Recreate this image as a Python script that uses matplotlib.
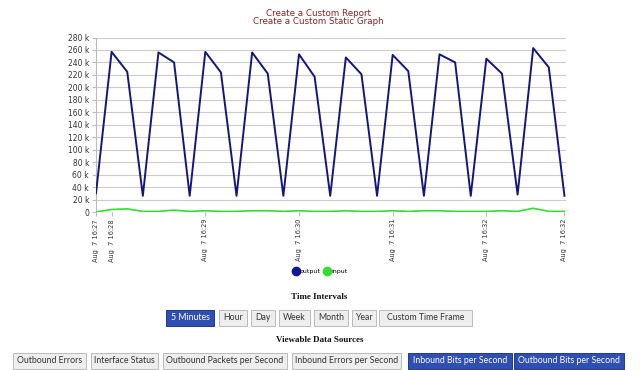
import datetime as dt
import matplotlib
matplotlib.use("Agg")
import matplotlib.pyplot as plt
from matplotlib.lines import Line2D
from matplotlib.patches import FancyBboxPatch

# samples every 10 s, 16:27:50 -> 16:32:50
start = dt.datetime(2012, 8, 7, 16, 27, 50)
times = [start + dt.timedelta(seconds=10 * i) for i in range(31)]
output_k = [30, 257, 225, 26, 256, 240, 26, 257, 224, 26, 256, 222, 26,
            253, 217, 26, 248, 221, 26, 252, 226, 26, 253, 240, 26,
            246, 222, 28, 263, 232, 26]
input_k = [0, 4, 5, 1, 1, 3, 1, 2, 1, 1, 2, 2, 1, 2, 1, 1, 2, 1, 1,
           2, 1, 2, 2, 1, 1, 1, 2, 1, 6, 1, 1]

tick_times = [times[0]] + [dt.datetime(2012, 8, 7, 16, m) for m in range(28, 33)] + [times[-1]]
y_ticks = list(range(0, 281, 20))

interval_buttons = ["5 Minutes", "Hour", "Day", "Week", "Month", "Year", "Custom Time Frame"]
interval_x = [(166, 214), (219, 247), (251, 275), (279, 310), (314, 348), (352, 376), (379, 472)]
source_buttons = ["Outbound Errors", "Interface Status", "Outbound Packets per Second",
                  "Inbound Errors per Second", "Inbound Bits per Second", "Outbound Bits per Second"]
source_x = [(13, 86), (91, 158), (163, 287), (292, 401), (408, 512), (514, 624)]
active = {"5 Minutes", "Inbound Bits per Second", "Outbound Bits per Second"}

W, H = 640, 370
fig = plt.figure(figsize=(6.4, 3.7), dpi=100)
fig.patch.set_facecolor("white")

ax = fig.add_axes([96 / W, 1 - 212 / H, (566 - 96) / W, (212 - 37.5) / H])
ax.plot(times, [v * 1000 for v in output_k], color="#15157f", lw=1.4, zorder=3)
ax.plot(times, [v * 1000 for v in input_k], color="#33dd33", lw=1.2, zorder=3)

ax.set_ylim(0, 280000)
ax.set_yticks([v * 1000 for v in y_ticks])
ax.set_yticklabels(["0" if v == 0 else f"{v} k" for v in y_ticks], fontsize=5.5, color="#333333")
ax.set_xlim(times[0], times[-1] + dt.timedelta(seconds=1))
ax.set_xticks(tick_times)
ax.set_xticklabels([t.strftime("Aug  7 %H:%M") for t in tick_times], rotation=90,
                   fontsize=4.8, color="#333333", va="top", ha="center")
ax.grid(axis="y", color="#cccccc", lw=0.8)
ax.set_axisbelow(True)
for s in ["top", "right", "bottom"]:
    ax.spines[s].set_visible(False)
ax.spines["left"].set_color("#bbbbbb")
ax.tick_params(axis="y", length=3, color="#bbbbbb", pad=2)
ax.tick_params(axis="x", length=3, color="#bbbbbb", pad=2)

# titles
fig.text(318 / W, 1 - 13 / H, "Create a Custom Report", ha="center", va="center",
         fontsize=6.3, color="#8b2222")
fig.text(318 / W, 1 - 22 / H, "Create a Custom Static Graph", ha="center", va="center",
         fontsize=6.3, color="#8b2222")

# legend
handles = [Line2D([], [], marker="o", ls="", color="#15159a", markersize=6),
           Line2D([], [], marker="o", ls="", color="#33dd33", markersize=6)]
fig.legend(handles, ["output", "input"], loc="center", bbox_to_anchor=(320 / W, 1 - 271.5 / H),
           ncol=2, frameon=False, fontsize=4.5, handletextpad=0.1, columnspacing=0.6,
           handlelength=1.0)

fig.text(319 / W, 1 - 297 / H, "Time Intervals", ha="center", va="center",
         fontsize=6.5, fontweight="bold", family="Liberation Serif", color="#111111")
fig.text(320 / W, 1 - 340 / H, "Viewable Data Sources", ha="center", va="center",
         fontsize=6.5, fontweight="bold", family="Liberation Serif", color="#111111")


def button(label, x0, x1, y0, y1):
    on = label in active
    face = "#2f4fb3" if on else "#eeeeee"
    edge = "#23398a" if on else "#bbbbbb"
    fig.patches.append(FancyBboxPatch((x0 / W, 1 - y1 / H), (x1 - x0) / W, (y1 - y0) / H,
                                      boxstyle="square,pad=0", transform=fig.transFigure,
                                      facecolor=face, edgecolor=edge, lw=0.7, figure=fig))
    fig.text((x0 + x1) / 2 / W, 1 - (y0 + y1) / 2 / H, label, ha="center", va="center",
             fontsize=6.3, color="white" if on else "#333333", family="Lato")


for label, (x0, x1) in zip(interval_buttons, interval_x):
    button(label, x0, x1, 309.5, 325.5)
for label, (x0, x1) in zip(source_buttons, source_x):
    button(label, x0, x1, 352.5, 369)

fig.savefig("out.png", dpi=100)
